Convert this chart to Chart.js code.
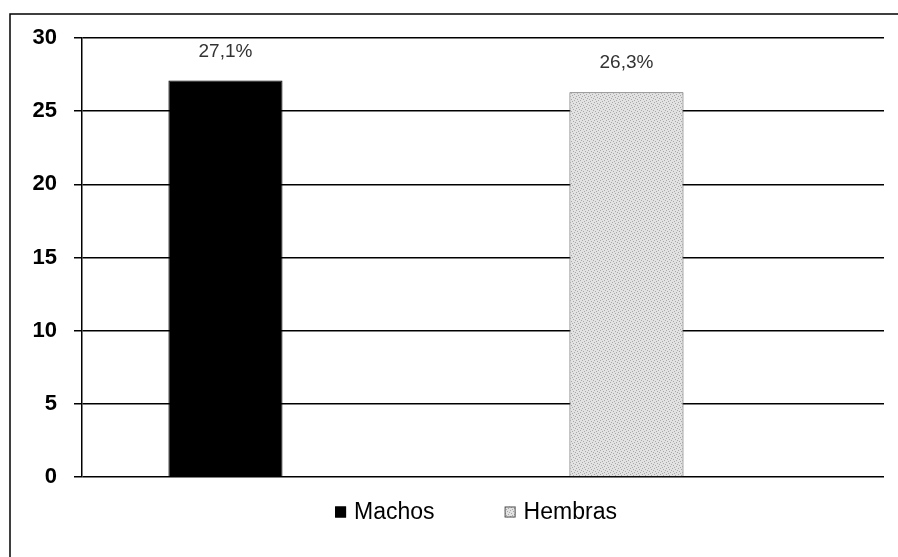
<!DOCTYPE html>
<html>
<head>
<meta charset="utf-8">
<script src="https://cdn.jsdelivr.net/npm/chart.js@4/dist/chart.umd.min.js"></script>
<style>
  html, body { margin: 0; padding: 0; background: #fff; }
  #wrap { width: 898px; height: 557px; position: relative; }
</style>
</head>
<body>
<div id="wrap"><canvas id="myChart" width="898" height="557"></canvas></div>
<script>
// datos
const categorias = ['Machos', 'Hembras'];
const machos = [27.1, null];
const hembras = [null, 26.3];
const etiquetas = ['27,1%', '26,3%'];
const ticksY = [0, 5, 10, 15, 20, 25, 30];

const fuente = '"Liberation Sans", Arial, sans-serif';

// relleno punteado gris para Hembras
function patronGris() {
    const c = document.createElement('canvas');
    c.width = 6; c.height = 6;
    const g = c.getContext('2d');
    g.fillStyle = '#e2e2e2';
    g.fillRect(0, 0, 6, 6);
    g.fillStyle = '#a8a8a8';
    [[0, 0], [3, 1], [1, 3], [4, 4], [5, 2], [2, 5]].forEach(p => g.fillRect(p[0], p[1], 1, 1));
    return g.createPattern(c, 'repeat');
}

// marco exterior
const marco = {
    id: 'marco',
    afterDraw(chart) {
        const ctx = chart.ctx;
        ctx.save();
        ctx.strokeStyle = '#000';
        ctx.lineWidth = 1.5;
        ctx.beginPath();
        ctx.moveTo(10, 557);
        ctx.lineTo(10, 14);
        ctx.lineTo(898, 14);
        ctx.stroke();
        ctx.restore();
    }
};

// etiquetas sobre las barras
const etiquetasBarras = {
    id: 'etiquetasBarras',
    afterDatasetsDraw(chart) {
        const ctx = chart.ctx;
        ctx.save();
        ctx.font = '19px ' + fuente;
        ctx.fillStyle = '#333';
        ctx.textAlign = 'center';
        ctx.textBaseline = 'middle';
        chart.data.datasets.forEach((ds, i) => {
            const meta = chart.getDatasetMeta(i);
            ds.data.forEach((v, j) => {
                if (v === null) return;
                const bar = meta.data[j];
                ctx.fillText(etiquetas[j], bar.x, bar.y - 29);
            });
        });
        ctx.restore();
    }
};

// leyenda abajo (cuadrito pegado al texto, como en Excel)
const leyenda = {
    id: 'leyenda',
    afterDraw(chart) {
        const ctx = chart.ctx;
        const items = chart.data.datasets.filter(ds => ds.label);
        const caja = 11, sep = 8, hueco = 70, y = 512;
        ctx.save();
        ctx.font = '23px ' + fuente;
        ctx.textBaseline = 'middle';
        const anchos = items.map(ds => caja + sep + ctx.measureText(ds.label).width);
        const total = anchos.reduce((a, b) => a + b, 0) + hueco * (items.length - 1);
        let x = 476 - total / 2;
        items.forEach((ds, i) => {
            ctx.fillStyle = ds.backgroundColor;
            ctx.fillRect(x, y - caja / 2, caja, caja);
            ctx.strokeStyle = ds.borderColor;
            ctx.lineWidth = 1;
            ctx.strokeRect(x + 0.5, y - caja / 2 + 0.5, caja - 1, caja - 1);
            ctx.fillStyle = '#000';
            ctx.fillText(ds.label, x + caja + sep, y + 1);
            x += anchos[i] + hueco;
        });
        ctx.restore();
    }
};

const ctx = document.getElementById('myChart').getContext('2d');
const myChart = new Chart(ctx, {
    type: 'bar',
    data: {
        labels: categorias,
        datasets: [{
            label: 'Machos',
            data: machos,
            stack: 'a',
            backgroundColor: '#000',
            borderColor: '#000',
            borderWidth: 1
        }, {
            label: 'Hembras',
            data: hembras,
            stack: 'a',
            backgroundColor: patronGris(),
            borderColor: '#555',
            borderWidth: 1
        }, {
            // hueco vacío a la derecha de cada barra (como en el original)
            label: '',
            data: [null, null],
            stack: 'b'
        }]
    },
    plugins: [marco, etiquetasBarras, leyenda],
    options: {
        responsive: false,
        animation: false,
        devicePixelRatio: 1,
        categoryPercentage: 0.569,
        barPercentage: 1.0,
        layout: { padding: { top: 38, right: 14, left: 0, bottom: 80 } },
        plugins: {
            tooltip: { enabled: false },
            legend: { display: false }
        },
        scales: {
            x: {
                display: false
            },
            y: {
                min: 0,
                max: 30,
                afterFit(scale) { scale.width = 82; },
                afterBuildTicks(scale) { scale.ticks = ticksY.map(v => ({ value: v })); },
                border: { display: true, color: '#000', width: 1.5 },
                grid: { color: '#000', lineWidth: 1.5, tickLength: 8 },
                ticks: {
                    autoSkip: false,
                    padding: 17,
                    color: '#000',
                    font: { family: '"Liberation Sans", Arial, sans-serif', size: 22, weight: 'bold' }
                }
            }
        }
    }
});
</script>
</body>
</html>
